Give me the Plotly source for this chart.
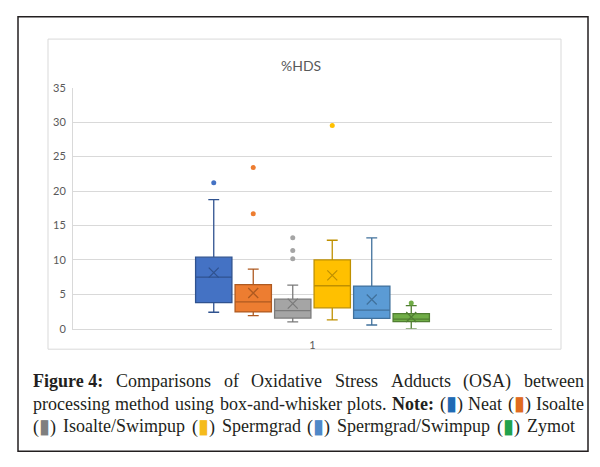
import plotly.graph_objects as go

# ---- data ----
categories = ["Neat", "Isoalte", "Isoalte/Swimpup", "Spermgrad", "Spermgrad/Swimpup", "Zymot"]
lower_whisker = [2.4, 1.9, 1.0, 1.3, 0.55, 0.0]
q1_values = [3.8, 2.45, 1.55, 3.05, 1.5, 1.03]
median_values = [7.5, 3.9, 2.65, 6.25, 2.7, 1.4]
q3_values = [10.4, 6.4, 4.3, 10.0, 6.2, 2.2]
upper_whisker = [18.75, 8.65, 6.35, 12.85, 13.2, 3.35]
mean_values = [8.15, 5.2, 3.65, 7.75, 4.25, 1.7]
outlier_values = [[21.2], [23.4, 16.7], [13.2, 11.35, 10.15], [29.5], [], [3.75]]
x_label = "1"
y_ticks = [0, 5, 10, 15, 20, 25, 30, 35]

fill_colors = ["#4472C4", "#ED7D31", "#A5A5A5", "#FFC000", "#5B9BD5", "#70AD47"]
line_colors = ["#2F528F", "#AE5A21", "#7B7B7B", "#BF9000", "#41719C", "#507E32"]
caption_colors = ["#1F6BB4", "#E06B1F", "#7F7F7F", "#F5BB1D", "#4F88C8", "#22A24C"]

fig = go.Figure()
for i, name in enumerate(categories):
    extra = {"y": [outlier_values[i]]} if outlier_values[i] else {}
    fig.add_trace(go.Box(
        name=name, x=[x_label],
        q1=[q1_values[i]], median=[median_values[i]], q3=[q3_values[i]],
        lowerfence=[lower_whisker[i]], upperfence=[upper_whisker[i]],
        boxpoints="outliers", jitter=0, pointpos=0,
        fillcolor=fill_colors[i], line=dict(color=line_colors[i], width=1.3),
        whiskerwidth=0.3,
        marker=dict(color=fill_colors[i], size=5, line=dict(width=0)),
        offsetgroup=str(i), showlegend=False, hoverinfo="skip",
        **extra,
    ))
for i, name in enumerate(categories):
    fig.add_trace(go.Scatter(
        x=[x_label], y=[mean_values[i]], mode="markers",
        marker=dict(symbol="x-thin-open", size=10, color=line_colors[i],
                    line=dict(color=line_colors[i], width=1.3)),
        offsetgroup=str(i), showlegend=False, hoverinfo="skip",
    ))

W, H = 600, 467
px = lambda v: v / W
py = lambda v: 1 - v / H

fig.update_layout(
    width=W, height=H, margin=dict(l=0, r=0, t=0, b=0),
    paper_bgcolor="white", plot_bgcolor="white",
    boxmode="group", boxgap=0.5, boxgroupgap=0.08,
    scattermode="group", scattergap=0.5,
    xaxis=dict(domain=[px(73), px(552)], type="category",
               showgrid=False, showline=True, linecolor="#D9D9D9", linewidth=1,
               ticks="", ticklabelstandoff=6,
               tickfont=dict(family="Lato", size=11, color="#595959"),
               fixedrange=True),
    yaxis=dict(domain=[py(331), py(83)], range=[0, 35], tickvals=y_ticks,
               showgrid=True, gridcolor="#D9D9D9", gridwidth=1,
               showline=True, linecolor="#D9D9D9", zeroline=False,
               ticks="", ticklabelstandoff=4,
               tickfont=dict(family="Lato", size=11, color="#595959")),
    font=dict(family="Liberation Serif", color="#231F20"),
)

shapes = [
    dict(type="rect", xref="paper", yref="paper", x0=px(18), x1=px(588), y0=py(457), y1=py(10),
         line=dict(color="#231F20", width=1.5), fillcolor="rgba(0,0,0,0)", layer="below"),
    dict(type="rect", xref="paper", yref="paper", x0=px(48), x1=px(561), y0=py(352), y1=py(33),
         line=dict(color="#D9D9D9", width=1), fillcolor="rgba(0,0,0,0)", layer="below"),
]
fig.update_layout(shapes=shapes)

ann = [dict(text="%HDS", x=px(301), y=py(60), xref="paper", yref="paper", showarrow=False,
            xanchor="center", yanchor="middle", font=dict(family="Lato", size=14, color="#595959"))]

def sq(c):
    return f'(<span style="color:{c};font-size:20px">▮</span>)'

caption_lines = [
    ["<b>Figure 4:</b>", "Comparisons", "of", "Oxidative", "Stress", "Adducts", "(OSA)", "between"],
    ["processing", "method", "using", "box-and-whisker", "plots.", "<b>Note:</b>",
     sq(caption_colors[0]), categories[0], sq(caption_colors[1]), categories[1]],
    [sq(caption_colors[2]), categories[2], sq(caption_colors[3]), categories[3],
     sq(caption_colors[4]), categories[4], sq(caption_colors[5]), categories[5]],
]
line_y = [385, 408, 431]
for li, words in enumerate(caption_lines):
    for k, text in enumerate(words):
        ann.append(dict(text=text, name=f"J-{li}-{k}", x=px(31 + 60 * k), y=py(line_y[li]),
                        xref="paper", yref="paper", showarrow=False, xanchor="left",
                        yanchor="middle",
                        font=dict(family="Liberation Serif", size=18, color="#231F20")))
fig.update_layout(annotations=ann)

# justify caption words between the caption margins (measured in the browser)
post = r"""
document.documentElement.style.margin='0px';
document.body.style.margin='0px';
var gd = document.getElementById('{plot_id}');
var anns = gd._fullLayout.annotations;
var ends = {'0': [31, 582], '1': [31, 582], '2': [31, 573]};
var lines = {};
gd.querySelectorAll('g.annotation').forEach(function(g){
  var idx = +g.getAttribute('data-index');
  var a = anns[idx];
  if (!a || !a.name || a.name.indexOf('J-') !== 0) return;
  var p = a.name.split('-');
  var t = g.querySelector('text');
  var w = t.getBBox().width;
  (lines[p[1]] = lines[p[1]] || []).push({idx: idx, k: +p[2], w: w});
});
var upd = {};
Object.keys(lines).forEach(function(ln){
  var arr = lines[ln].sort(function(a, b){ return a.k - b.k; });
  var sum = 0; arr.forEach(function(o){ sum += o.w; });
  var L = ends[ln][0], R = ends[ln][1];
  var gap = (R - L - sum) / (arr.length - 1);
  var x = L;
  arr.forEach(function(o){
    upd['annotations[' + o.idx + '].x'] = x / 600;
    x += o.w + gap;
  });
});
Plotly.relayout(gd, upd);
"""

fig.write_html("out.html", post_script=post, config={"displayModeBar": False})
